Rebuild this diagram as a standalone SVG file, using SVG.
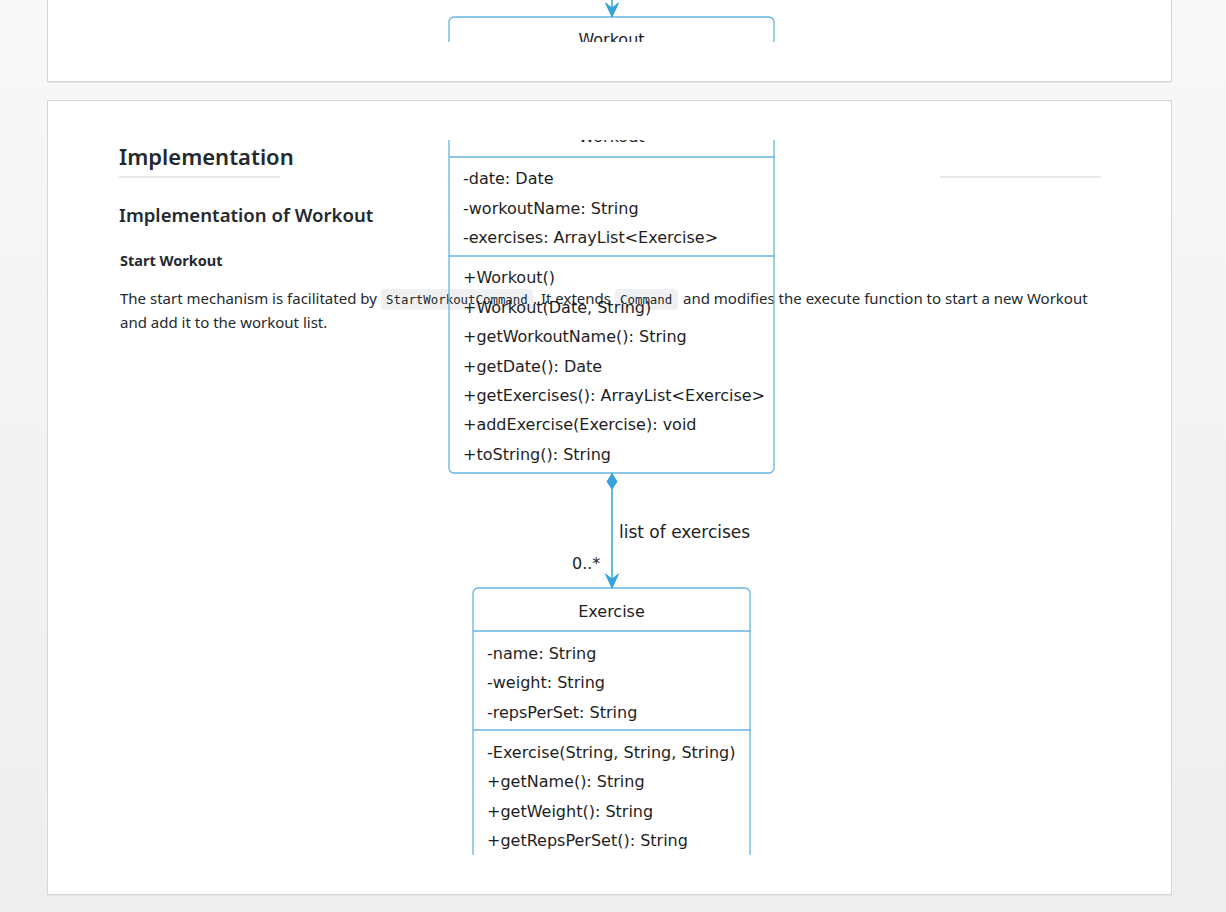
<svg xmlns="http://www.w3.org/2000/svg" width="1226" height="912" viewBox="0 0 1226 912">
<defs>
<linearGradient id="bg" x1="0" y1="0" x2="0" y2="1">
<stop offset="0" stop-color="#f8f8f8"/>
<stop offset="1" stop-color="#eeeeee"/>
</linearGradient>
<clipPath id="clipTop"><rect x="0" y="0" width="1226" height="42"/></clipPath>
<clipPath id="clipMain"><rect x="0" y="140" width="1226" height="715"/></clipPath>
<marker id="arrow" viewBox="0 0 16 16" refX="15" refY="8" markerWidth="16" markerHeight="16" markerUnits="userSpaceOnUse" orient="auto">
<path d="M15,8 L1,1.5 L6,8 L1,14.5 Z" fill="#36a2da" stroke="#36a2da" stroke-width="1" stroke-linejoin="round"/>
</marker>
<marker id="diamond" viewBox="0 0 18 12" refX="0" refY="6" markerWidth="18" markerHeight="12" markerUnits="userSpaceOnUse" orient="auto">
<path d="M0,6 L8.5,0.5 L17,6 L8.5,11.5 Z" fill="#36a2da"/>
</marker>
</defs>
<style>
.card{fill:#ffffff;stroke:#d3d6da;stroke-width:1}
.box{fill:none;stroke:#64b5e2;stroke-width:1.3}
.div{stroke:#64b5e2;stroke-width:1.3}
.conn{stroke:#36a2da;stroke-width:1.5;fill:none}
.uml{font-family:"DejaVu Sans",Verdana,sans-serif;font-size:16px;fill:#1e1e1e}
.lbl{font-size:17px}
.title{text-anchor:middle}
.doc{font-family:"Noto Sans","Open Sans",sans-serif;fill:#24292e}
.p{font-size:15px}
.code{font-family:"DejaVu Sans Mono","Liberation Mono",monospace;font-size:12.4px;fill:#24292e}
.codebg{fill:#eff0f1}
.rule{stroke:#e6e8ea;stroke-width:2}
</style>
<rect x="0" y="0" width="1226" height="912" fill="url(#bg)"/>

<!-- top card -->
<rect class="card" x="47.5" y="-10" width="1124" height="91.5"/>
<line x1="48" y1="82.5" x2="1171" y2="82.5" stroke="#e2e4e6" stroke-width="1"/>
<g clip-path="url(#clipTop)">
<g id="workout-top">
<rect class="box" x="449" y="17" width="325" height="460" rx="5"/>
<text class="uml title" x="611.5" y="45">Workout</text>
</g>
<g id="connectors-top">
<line class="conn" x1="612" y1="-5" x2="612" y2="17" marker-end="url(#arrow)"/>
</g>
</g>

<!-- main card -->
<rect class="card" x="47.5" y="100.5" width="1124" height="794"/>
<line x1="48" y1="895.5" x2="1171" y2="895.5" stroke="#e2e4e6" stroke-width="1"/>

<text class="doc" x="119" y="165" font-size="22" font-weight="600">Implementation</text>
<line class="rule" x1="119" y1="177" x2="280" y2="177"/>
<line class="rule" x1="940" y1="177" x2="1101" y2="177"/>

<text class="doc" x="119" y="222" font-size="18.6" font-weight="600">Implementation of Workout</text>
<text class="doc" x="120" y="266" font-size="14.5" font-weight="700">Start Workout</text>
<text class="doc p" x="120" y="304">The start mechanism is facilitated by</text>
<rect class="codebg" x="381" y="289" width="152" height="21" rx="3"/>
<text class="code" x="386" y="303.5">StartWorkoutCommand</text>
<text class="doc p" x="533" y="304">. It extends</text>
<rect class="codebg" x="615" y="289" width="63" height="21" rx="3"/>
<text class="code" x="620" y="303.5">Command</text>
<text class="doc p" x="683" y="304">and modifies the execute function to start a new Workout</text>
<text class="doc p" x="120" y="328">and add it to the workout list.</text>

<g clip-path="url(#clipMain)">
<g id="workout">
<rect class="box" x="449" y="115" width="325" height="358" rx="5"/>
<text class="uml title" x="611.5" y="141.5">Workout</text>
<line class="div" x1="449" y1="157" x2="774" y2="157"/>
<text class="uml" x="463" y="184">-date: Date</text>
<text class="uml" x="463" y="213.5">-workoutName: String</text>
<text class="uml" x="463" y="243">-exercises: ArrayList&lt;Exercise&gt;</text>
<line class="div" x1="449" y1="256" x2="774" y2="256"/>
<text class="uml" x="463" y="283">+Workout()</text>
<text class="uml" x="463" y="312.5">+Workout(Date, String)</text>
<text class="uml" x="463" y="342">+getWorkoutName(): String</text>
<text class="uml" x="463" y="371.5">+getDate(): Date</text>
<text class="uml" x="463" y="400.5">+getExercises(): ArrayList&lt;Exercise&gt;</text>
<text class="uml" x="463" y="430">+addExercise(Exercise): void</text>
<text class="uml" x="463" y="459.5">+toString(): String</text>
</g>
<g id="exercise">
<rect class="box" x="473" y="588" width="277" height="300" rx="5"/>
<text class="uml title" x="611.5" y="616.5">Exercise</text>
<line class="div" x1="473" y1="631" x2="750" y2="631"/>
<text class="uml" x="487" y="658.5">-name: String</text>
<text class="uml" x="487" y="688">-weight: String</text>
<text class="uml" x="487" y="717.5">-repsPerSet: String</text>
<line class="div" x1="473" y1="730" x2="750" y2="730"/>
<text class="uml" x="487" y="757.5">-Exercise(String, String, String)</text>
<text class="uml" x="487" y="787">+getName(): String</text>
<text class="uml" x="487" y="816.5">+getWeight(): String</text>
<text class="uml" x="487" y="846">+getRepsPerSet(): String</text>
</g>
<g id="connectors">
<line class="conn" x1="612" y1="473" x2="612" y2="588" marker-start="url(#diamond)" marker-end="url(#arrow)"/>
<text class="uml lbl" x="619" y="538">list of exercises</text>
<text class="uml" x="572" y="569">0..*</text>
</g>
</g>
</svg>
